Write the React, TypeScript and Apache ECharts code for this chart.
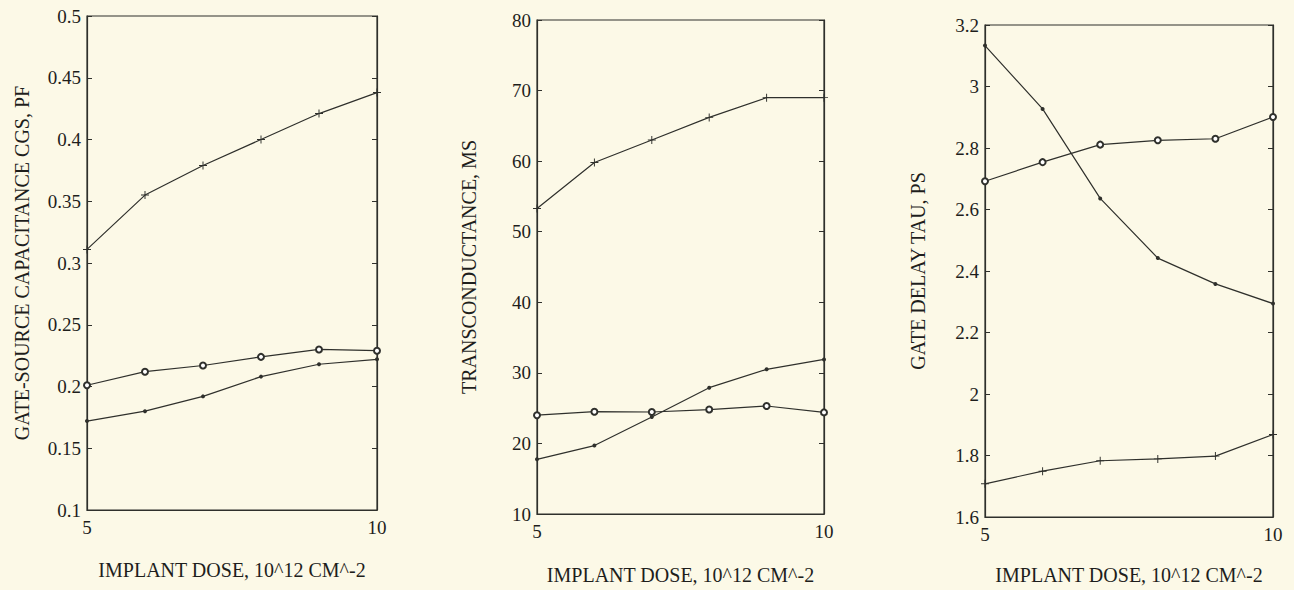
import React, { useEffect, useRef } from "react";
import * as echarts from "echarts";

const doses = [5, 6, 7, 8, 9, 10];

const cgsPlus = [0.311, 0.355, 0.379, 0.4, 0.421, 0.438];
const cgsCircle = [0.201, 0.212, 0.217, 0.224, 0.23, 0.229];
const cgsDot = [0.172, 0.18, 0.192, 0.208, 0.218, 0.222];

const gmPlus = [53.3, 59.8, 63.0, 66.2, 69.0, 69.0];
const gmCircle = [24.0, 24.5, 24.45, 24.8, 25.3, 24.4];
const gmDot = [17.75, 19.7, 23.75, 27.9, 30.5, 31.9];

const tauDot = [3.133, 2.927, 2.636, 2.442, 2.358, 2.294];
const tauCircle = [2.692, 2.754, 2.811, 2.825, 2.83, 2.901];
const tauPlus = [1.708, 1.749, 1.783, 1.789, 1.798, 1.868];

const yTitles = ["GATE-SOURCE CAPACITANCE CGS, PF", "TRANSCONDUCTANCE, MS", "GATE DELAY TAU, PS"];
const xTitle = "IMPLANT DOSE, 10^12 CM^-2";
const yMins = [0.1, 10, 1.6];
const yMaxs = [0.5, 80, 3.2];
const yIntervals = [0.05, 10, 0.2];
const yDecimals = [2, 0, 1];
const xMin = 5;
const xMax = 10;

const INK = "#2f302c";
const TEXT = "#1e1e1c";
const BG = "#fcf9e7";
const FONT = "'Liberation Serif', 'DejaVu Serif', serif";
const PLUS = "path://M4.4,0H5.6V4.4H10V5.6H5.6V10H4.4V5.6H0V4.4H4.4Z";

const grids = [
  { left: 87, top: 16, width: 290, height: 494 },
  { left: 537, top: 20, width: 287, height: 494 },
  { left: 985, top: 25, width: 288, height: 494 },
];
const yNameGaps = [55, 58, 57];
const xNameGaps = [50, 51, 48];

function pairs(ys: number[]) {
  return doses.map((d, i) => [d, ys[i]]);
}

function mk(idx: number, ys: number[], kind: "plus" | "circle" | "dot") {
  const sym = kind === "plus" ? PLUS : kind === "circle" ? "emptyCircle" : "circle";
  const size = kind === "plus" ? 8 : kind === "circle" ? 6 : 4;
  return {
    type: "line",
    xAxisIndex: idx,
    yAxisIndex: idx * 2,
    data: pairs(ys),
    symbol: sym,
    symbolSize: size,
    showSymbol: true,
    lineStyle: { color: INK, width: 1.2 },
    itemStyle: { color: INK, borderColor: INK, borderWidth: kind === "circle" ? 1.6 : 0 },
    emphasis: { disabled: true },
    silent: true,
  };
}

export default function App() {
  const ref = useRef<HTMLDivElement>(null);
  useEffect(() => {
    document.body.style.margin = "0";
    document.body.style.background = BG;
    if (!ref.current) return;
    const chart = echarts.init(ref.current, undefined, { renderer: "svg" });
    const xAxes: any[] = [];
    const yAxes: any[] = [];
    grids.forEach((g, i) => {
      xAxes.push({
        type: "value",
        gridIndex: i,
        min: xMin,
        max: xMax,
        interval: 5,
        name: xTitle,
        nameLocation: "middle",
        nameGap: xNameGaps[i],
        nameTextStyle: { fontFamily: FONT, fontSize: 20, color: TEXT },
        axisLine: { show: true, lineStyle: { color: INK, width: 1.2 } },
        axisTick: { show: false },
        splitLine: { show: false },
        axisLabel: { fontFamily: FONT, fontSize: 19, color: TEXT, margin: 8 },
      });
      const common = {
        type: "value",
        gridIndex: i,
        min: yMins[i],
        max: yMaxs[i],
        interval: yIntervals[i],
        splitLine: { show: false },
      };
      yAxes.push({
        ...common,
        position: "left",
        name: yTitles[i],
        nameLocation: "middle",
        nameRotate: 90,
        nameGap: yNameGaps[i],
        nameTextStyle: { fontFamily: FONT, fontSize: 20, color: TEXT },
        axisLine: { show: true, lineStyle: { color: INK, width: 1.2 } },
        axisTick: { show: true, inside: true, length: 5, lineStyle: { color: INK } },
        axisLabel: {
          fontFamily: FONT,
          fontSize: 19,
          color: TEXT,
          margin: 6,
          formatter: (v: number) => String(+v.toFixed(yDecimals[i])),
        },
      });
      yAxes.push({
        ...common,
        position: "right",
        axisLine: { show: true, lineStyle: { color: INK, width: 1.2 } },
        axisTick: { show: true, inside: true, length: 5, lineStyle: { color: INK } },
        axisLabel: { show: false },
      });
    });
    chart.setOption({
      animation: false,
      backgroundColor: BG,
      grid: grids.map((g) => ({ ...g, show: true, borderColor: INK, borderWidth: 1.2, containLabel: false })),
      xAxis: xAxes,
      yAxis: yAxes,
      series: [
        mk(0, cgsPlus, "plus"),
        mk(0, cgsCircle, "circle"),
        mk(0, cgsDot, "dot"),
        mk(1, gmPlus, "plus"),
        mk(1, gmCircle, "circle"),
        mk(1, gmDot, "dot"),
        mk(2, tauDot, "dot"),
        mk(2, tauCircle, "circle"),
        mk(2, tauPlus, "plus"),
      ],
    });
    return () => chart.dispose();
  }, []);
  return <div ref={ref} style={{ width: 1294, height: 590 }} />;
}
